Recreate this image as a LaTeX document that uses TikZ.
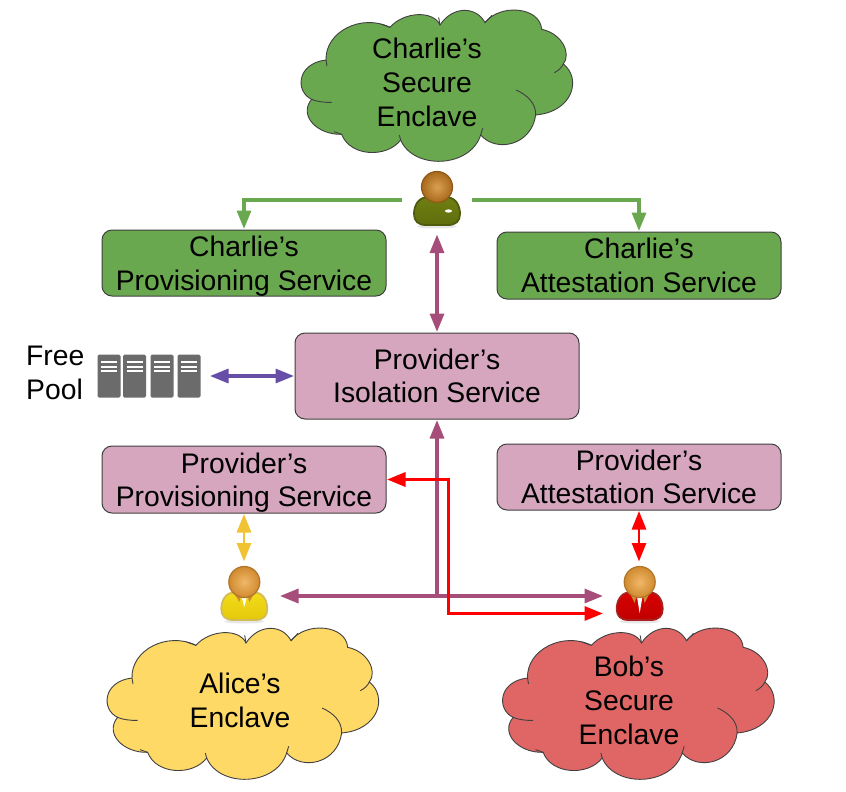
\documentclass[tikz,border=0pt]{standalone}
\usepackage{fontspec}
\setmainfont{Liberation Sans}
\usetikzlibrary{arrows.meta}
\definecolor{gr}{HTML}{6AA84F}
\definecolor{pk}{HTML}{D5A6BD}
\definecolor{ye}{HTML}{FFD966}
\definecolor{rd}{HTML}{E06666}
\definecolor{plum}{HTML}{A64D79}
\definecolor{vio}{HTML}{674EA7}
\definecolor{gold}{HTML}{F1C232}
\definecolor{srv}{HTML}{6B6B6B}
\definecolor{hdL}{HTML}{F0B868}
\definecolor{hdD}{HTML}{D08A30}
\definecolor{chL}{HTML}{D9A050}
\definecolor{chD}{HTML}{A8691C}
\definecolor{olT}{HTML}{6F7F12}
\definecolor{olB}{HTML}{5F6E0C}
\definecolor{olO}{HTML}{4F5C10}
\definecolor{yeT}{HTML}{F2DC1A}
\definecolor{yeB}{HTML}{E5C80A}
\definecolor{yeO}{HTML}{D2BC5A}
\definecolor{rdT}{HTML}{D80000}
\definecolor{rdB}{HTML}{C00000}
\definecolor{rdO}{HTML}{A82020}
\tikzset{
  lab/.style={font=\fontsize{28.3}{34}\selectfont,align=center,text=black,inner sep=0pt},
  svc/.style={draw=black!75,line width=1pt,rounded corners=10pt,minimum width=284pt,outer sep=1pt,
    font=\fontsize{28.3}{33.5}\selectfont,align=center,text=black,inner sep=0pt},
  who/.style={minimum width=72pt,minimum height=69pt,inner sep=0pt,outer sep=0pt},
  wire/.style={line width=3.2pt,>={Triangle[length=18.5pt,width=14pt]}},
  cloudline/.style={draw=black!75,line width=.9pt},
  rack/.style={fill=srv,rounded corners=1.5pt},
  rackline/.style={draw=white,line width=2pt}
}
% cloud outline, in thirds of a pixel
\newcommand{\cloudshape}[3]{%
\begin{scope}[shift={(#1,#2)},x=.33333pt,y=-.33333pt]
\fill[#3,cloudline] (108,180) .. controls (105,95) and (215,40) .. (300,82)
  .. controls (340,35) and (430,30) .. (450,75)
  .. controls (490,15) and (560,20) .. (585,68)
  .. controls (630,10) and (750,20) .. (755,88)
  .. controls (815,100) and (845,160) .. (820,192)
  .. controls (875,235) and (850,335) .. (737,345)
  .. controls (725,435) and (620,460) .. (572,405)
  .. controls (540,505) and (370,510) .. (332,420)
  .. controls (290,475) and (180,470) .. (155,403)
  .. controls (80,405) and (25,345) .. (65,298)
  .. controls (15,275) and (20,190) .. (108,180) -- cycle;
\draw[cloudline] (65,298) .. controls (80,305) and (105,308) .. (125,307);
\draw[cloudline] (108,180) -- (111,198);
\draw[cloudline] (300,82) -- (272,72);
\draw[cloudline] (450,75) -- (446,52);
\draw[cloudline] (585,68) -- (606,46);
\draw[cloudline] (820,192) .. controls (815,203) and (805,212) .. (793,218);
\draw[cloudline] (737,345) .. controls (738,310) and (712,285) .. (678,270);
\draw[cloudline] (572,405) -- (578,385);
\draw[cloudline] (155,403) -- (132,395);
\draw[cloudline] (332,420) -- (328,405);
\end{scope}}
% person: head centre, body fill top/bottom, outline, head light/dark, collar flag
\newcommand{\personicon}[8]{%
\begin{scope}[shift={(#1,#2)}]
\fill[black!30,opacity=.3] (0,39.5) ellipse [x radius=20pt,y radius=2pt];
\path[top color=#3,bottom color=#4,draw=#5,line width=1.8pt]
  (-11,10.5) .. controls (-19,11) and (-23,19) .. (-23,27)
  .. controls (-23,34) and (-19,38) .. (-11,38) -- (11,38)
  .. controls (19,38) and (23,34) .. (23,27)
  .. controls (23,19) and (19,11) .. (11,10.5) -- cycle;
#8
\path[inner color=#6,outer color=#7,draw=#7!85!black,line width=1.2pt] (0,0) circle [radius=15.5pt];
\end{scope}}
\begin{document}
\begin{tikzpicture}[x=1pt,y=-1pt]
\useasboundingbox[fill=white] (0,0) rectangle (846,792);

% clouds
\cloudshape{290}{0}{gr}
\cloudshape{96}{618}{ye}
\cloudshape{491.5}{618}{rd}
\node[lab] (ctext) at (427,82) {Charlie’s\\Secure\\Enclave};
\node[lab] (atext) at (240,700) {Alice’s\\Enclave};
\node[lab] (btext) at (629,700) {Bob’s\\Secure\\Enclave};

% service boxes
\node[svc,fill=gr,minimum height=66pt] (cprov) at (244,263) {Charlie’s\\\smash{Provisioning Service}};
\node[svc,fill=gr,minimum height=67pt] (catt) at (639,265.5) {Charlie’s\\Attestation Service};
\node[svc,fill=pk,minimum height=86pt] (iso) at (437,376) {Provider’s\\Isolation Service};
\node[svc,fill=pk,minimum height=67pt] (pprov) at (244,479.5) {Provider’s\\\smash{Provisioning Service}};
\node[svc,fill=pk,minimum height=66pt] (patt) at (639,477) {Provider’s\\Attestation Service};

% free pool
\node[lab,align=left,anchor=west] (free) at (26,373) {Free\\Pool};
\node[minimum width=126pt,minimum height=44pt,inner sep=0pt,outer sep=0pt] (pool) at (147,376) {};
\foreach \xa in {97.5,123,150.5,177.5}{
  \fill[rack] (\xa,354.5) rectangle ++(23,43);
  \draw[rackline] (\xa+3.5,362) -- ++(16,0);
  \draw[rackline] (\xa+3.5,366.5) -- ++(16,0);
  \draw[rackline] (\xa+3.5,371) -- ++(16,0);
}

% people
\node[who,minimum width=70pt] (charlie) at (437,200) {};
\node[who] (alice) at (244,596) {};
\node[who] (bob) at (639,596) {};
\personicon{437}{187}{olT}{olB}{olO}{chL}{chD}{{\fill[white] (11.5,24) ellipse [x radius=3.5pt,y radius=1.6pt];}}
\personicon{244.3}{582}{yeT}{yeB}{yeO}{hdL}{hdD}{{\fill[white] (-3,13) -- (3,13) -- (0,25) -- cycle;\fill[hdD] (-9,13) -- (-3,13) -- (-5,20) -- cycle;\fill[hdD] (9,13) -- (3,13) -- (5,20) -- cycle;}}
\personicon{639.7}{582}{rdT}{rdB}{rdO}{hdL}{hdD}{{\fill[white] (-3,13) -- (3,13) -- (0,31) -- cycle;\fill[hdD] (-9,13) -- (-3,13) -- (-5,21) -- cycle;\fill[hdD] (9,13) -- (3,13) -- (5,21) -- cycle;}}

% connectors
\draw[wire,gr,->] (charlie.west) -| (cprov.north);
\draw[wire,gr,->] (charlie.east) -| (catt.north);
\draw[wire,plum,<->] (charlie.south) -- (iso.north);
\draw[wire,vio,<->] (pool.east) -- (iso.west);
\coordinate (foot) at (437,596);
\draw[wire,plum,->] (foot) -- (iso.south);
\draw[wire,plum,<->] (alice.east) -- (bob.west);
\draw[wire,gold,<->,line width=2.6pt] (pprov.south) -- (alice.north);
\draw[wire,red,<->,line width=2.6pt] (patt.south) -- (bob.north);
\coordinate (redturn) at (448.5,613.5);
\coordinate (redend) at (603,613.5);
\draw[wire,red,<->] (pprov.east) -| (redturn) -- (redend);
\end{tikzpicture}
\end{document}
